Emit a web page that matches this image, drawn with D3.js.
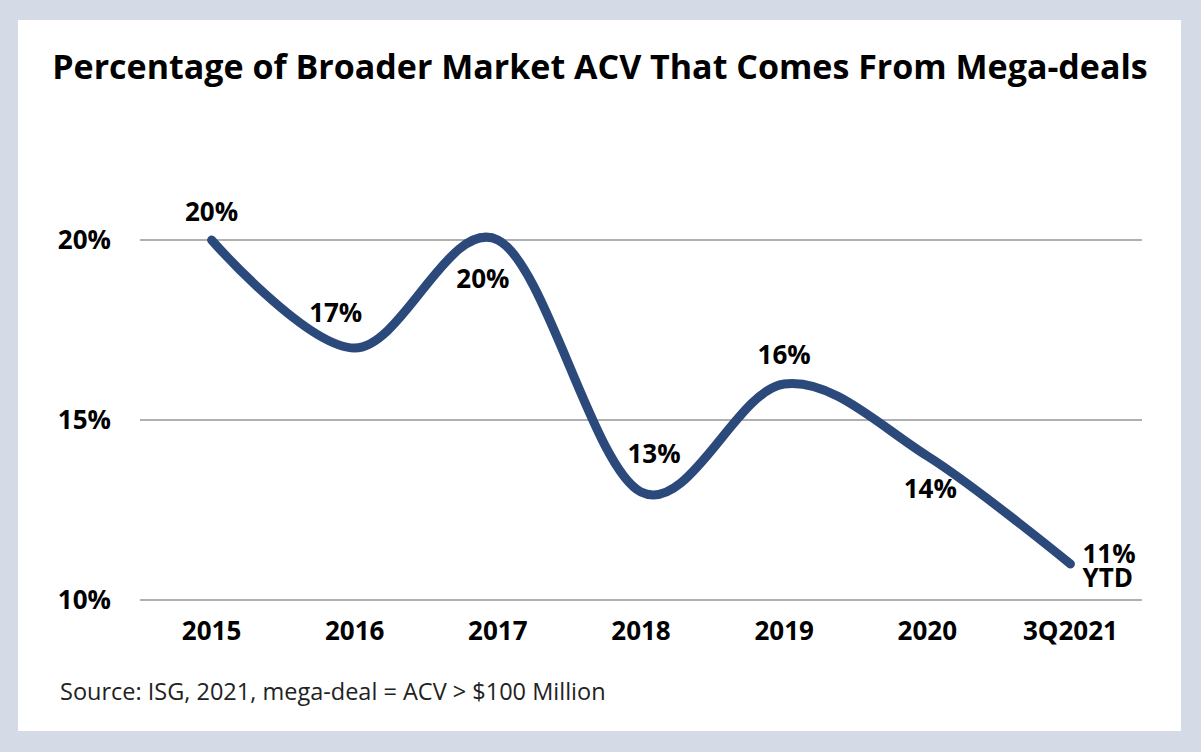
<!DOCTYPE html>
<html>
<head>
<meta charset="utf-8">
<script src="https://cdn.jsdelivr.net/npm/d3@7"></script>
<style>
  html, body { margin: 0; padding: 0; background: #d4dae6; }
  svg { display: block; }
</style>
</head>
<body>
<svg id="chart"></svg>
<script>
// chart data
const categories = ['2015', '2016', '2017', '2018', '2019', '2020', '3Q2021'];
const values = [20, 17, 20, 13, 16, 14, 11];
const pointLabels = ['20%', '17%', '20%', '13%', '16%', '14%', '11%\nYTD'];
const yTicks = [10, 15, 20];

// hand-placed label nudges (dx, dy from the point, anchor)
const labelLayout = [
  { dx: 0, dy: -19, anchor: 'middle' },
  { dx: -19, dy: -26, anchor: 'middle' },
  { dx: -15, dy: 48, anchor: 'middle' },
  { dx: 13, dy: -29, anchor: 'middle' },
  { dx: 0, dy: -20, anchor: 'middle' },
  { dx: 3, dy: 42, anchor: 'middle' },
  { dx: 12, dy: -1, anchor: 'start' }
];

const width = 1201;
const height = 752;
const frameColor = '#d4dae6';
const lineColor = '#2b4a7b';
const gridColor = '#b0b0b0';
const font = '"Open Sans", sans-serif';
const labelSize = '26px';

const svg = d3.select('#chart')
  .attr('width', width)
  .attr('height', height);

// outer frame + white panel
svg.append('rect')
  .attr('width', width)
  .attr('height', height)
  .attr('fill', frameColor);

svg.append('rect')
  .attr('x', 18)
  .attr('y', 20)
  .attr('width', 1181 - 18)
  .attr('height', 731 - 20)
  .attr('fill', '#fff');

// title
svg.append('text')
  .attr('x', 600)
  .attr('y', 79)
  .attr('text-anchor', 'middle')
  .style('font-family', font)
  .style('font-weight', 700)
  .style('font-size', '34px')
  .attr('fill', '#000')
  .text('Percentage of Broader Market ACV That Comes From Mega-deals');

// scales
const xScale = d3.scaleBand()
  .domain(categories)
  .range([140, 1142]);

const yScale = d3.scaleLinear()
  .domain([10, 20])
  .range([600, 240]);

const cx = d => xScale(d) + xScale.bandwidth() / 2;

// grid lines
svg.append('g')
  .selectAll('line')
  .data(yTicks)
  .join('line')
  .attr('x1', 140)
  .attr('x2', 1142)
  .attr('y1', d => yScale(d))
  .attr('y2', d => yScale(d))
  .attr('stroke', gridColor)
  .attr('stroke-width', 2);

// y axis labels
svg.append('g')
  .selectAll('text')
  .data(yTicks)
  .join('text')
  .attr('x', 111)
  .attr('y', d => yScale(d) + 9)
  .attr('text-anchor', 'end')
  .style('font-family', font)
  .style('font-weight', 700)
  .style('font-size', labelSize)
  .attr('fill', '#000')
  .text(d => d + '%');

// x axis labels
svg.append('g')
  .selectAll('text')
  .data(categories)
  .join('text')
  .attr('x', d => cx(d))
  .attr('y', 640)
  .attr('text-anchor', 'middle')
  .style('font-family', font)
  .style('font-weight', 700)
  .style('font-size', labelSize)
  .attr('fill', '#000')
  .text(d => d);

// smoothed line
const points = categories.map((c, i) => ({ c, v: values[i], label: pointLabels[i], pos: labelLayout[i] }));

const line = d3.line()
  .x(d => cx(d.c))
  .y(d => yScale(d.v))
  .curve(d3.curveCardinal.tension(0));

svg.append('path')
  .datum(points)
  .attr('fill', 'none')
  .attr('stroke', lineColor)
  .attr('stroke-width', 9)
  .attr('stroke-linecap', 'round')
  .attr('stroke-linejoin', 'round')
  .attr('d', line);

// data labels
const labels = svg.append('g')
  .selectAll('text')
  .data(points)
  .join('text')
  .attr('x', d => cx(d.c) + d.pos.dx)
  .attr('y', d => yScale(d.v) + d.pos.dy)
  .attr('text-anchor', d => d.pos.anchor)
  .style('font-family', font)
  .style('font-weight', 700)
  .style('font-size', labelSize)
  .attr('fill', '#000');

labels.each(function (d) {
  const parts = d.label.split('\n');
  const t = d3.select(this);
  parts.forEach((p, i) => {
    t.append('tspan')
      .attr('x', cx(d.c) + d.pos.dx)
      .attr('dy', i === 0 ? 0 : 24)
      .text(p);
  });
});

// source note
svg.append('text')
  .attr('x', 60)
  .attr('y', 700)
  .style('font-family', font)
  .style('font-size', '23.5px')
  .attr('fill', '#222')
  .text('Source: ISG, 2021, mega-deal = ACV > $100 Million');
</script>
</body>
</html>
